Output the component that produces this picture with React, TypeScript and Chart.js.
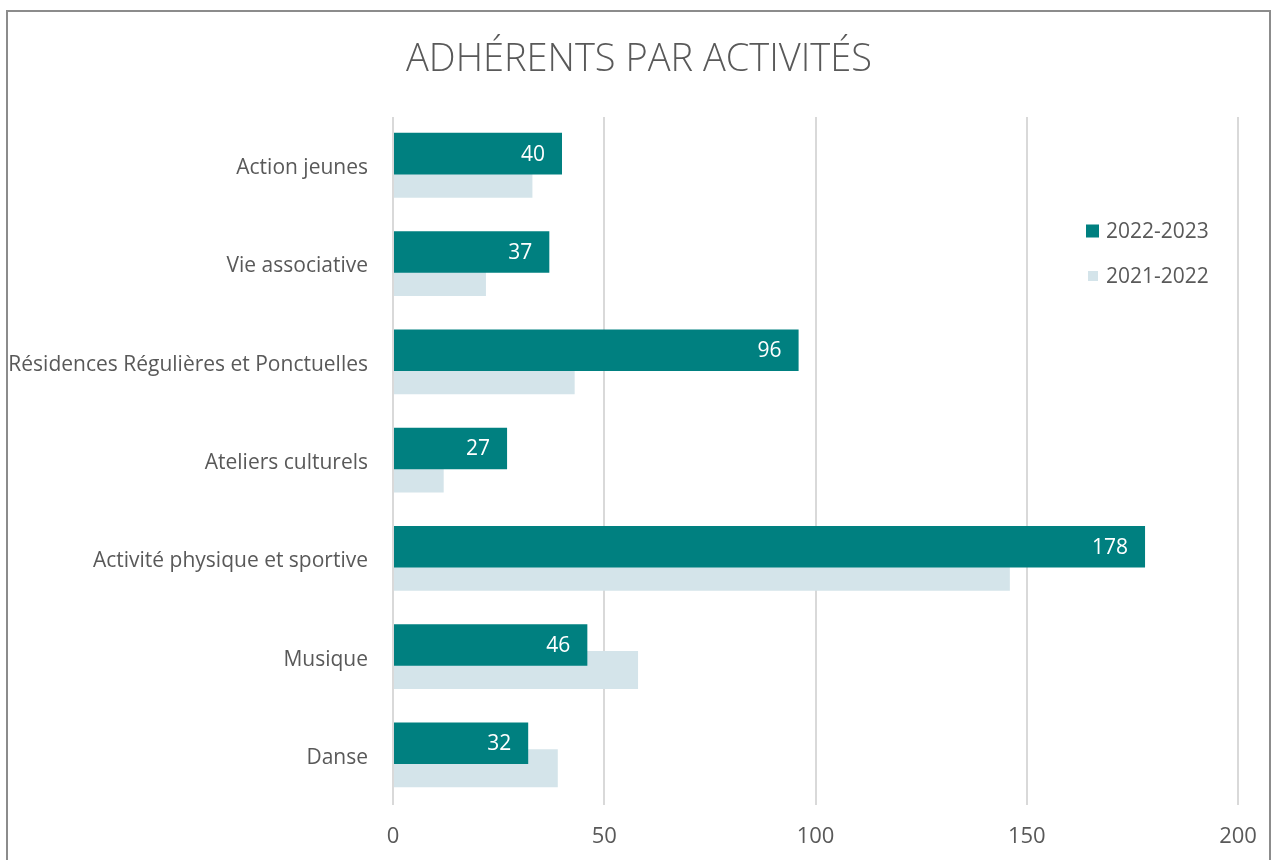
import React, { useEffect, useRef } from 'react';
import { Chart, registerables } from 'chart.js';

Chart.register(...registerables);

const categories = [
  'Action jeunes',
  'Vie associative',
  'Résidences Régulières et Ponctuelles',
  'Ateliers culturels',
  'Activité physique et sportive',
  'Musique',
  'Danse',
];
const series2023 = [40, 37, 96, 27, 178, 46, 32];
const series2022 = [33, 22, 43, 12, 146, 58, 39];
const seriesLabels = ['2022-2023', '2021-2022'];
const xTickValues = [0, 50, 100, 150, 200];
const titleText = 'ADHÉRENTS PAR ACTIVITÉS';

const TEAL = '#008080';
const LIGHT = '#D4E4EA';
const TEXT = '#595959';
const FONT = '"Open Sans", "DejaVu Sans", sans-serif';

const valueLabels = {
  id: 'valueLabels',
  afterDatasetsDraw(chart: any) {
    const meta = chart.getDatasetMeta(0);
    const ctx = chart.ctx;
    ctx.save();
    ctx.font = `21px ${FONT}`;
    ctx.fillStyle = '#ffffff';
    ctx.textAlign = 'right';
    ctx.textBaseline = 'middle';
    meta.data.forEach((el: any, i: number) => {
      ctx.fillText(String(chart.data.datasets[0].data[i]), el.x - 17, el.y + 1);
    });
    ctx.restore();
  },
};

const customTitle = {
  id: 'customTitle',
  afterDraw(chart: any) {
    const ctx = chart.ctx;
    ctx.save();
    ctx.font = `300 38px ${FONT}`;
    ctx.fillStyle = TEXT;
    ctx.textAlign = 'center';
    ctx.textBaseline = 'alphabetic';
    ctx.fillText(titleText, 639, 71);
    ctx.restore();
  },
};

const customLegend = {
  id: 'customLegend',
  afterDraw(chart: any) {
    const ctx = chart.ctx;
    ctx.save();
    ctx.font = `21px ${FONT}`;
    ctx.textAlign = 'left';
    ctx.textBaseline = 'middle';
    const rows = [
      { y: 231, size: 13, x: 1086 },
      { y: 276, size: 10, x: 1088 },
    ];
    chart.data.datasets.forEach((ds: any, i: number) => {
      const r = rows[i];
      ctx.fillStyle = ds.backgroundColor;
      ctx.fillRect(r.x, r.y - r.size / 2, r.size, r.size);
      ctx.fillStyle = TEXT;
      ctx.fillText(ds.label, 1106, r.y + 1);
    });
    ctx.restore();
  },
};

export default function App() {
  const canvasRef = useRef<HTMLCanvasElement | null>(null);

  useEffect(() => {
    document.body.style.margin = '0';
    const canvas = canvasRef.current;
    if (!canvas) return;
    const chart = new Chart(canvas, {
      type: 'bar',
      data: {
        labels: categories,
        datasets: [
          {
            label: seriesLabels[0],
            data: series2023,
            backgroundColor: TEAL,
            borderWidth: 0,
            categoryPercentage: 0.509,
            barPercentage: 1.66,
          },
          {
            label: seriesLabels[1],
            data: series2022,
            backgroundColor: LIGHT,
            borderWidth: 0,
            categoryPercentage: 0.509,
            barPercentage: 1.52,
          },
        ],
      },
      options: {
        indexAxis: 'y',
        responsive: false,
        animation: false,
        devicePixelRatio: 1,
        layout: { padding: { left: 0, right: 35, top: 117, bottom: 0 } },
        plugins: {
          legend: { display: false },
          tooltip: { enabled: false },
          title: { display: false },
        },
        scales: {
          x: {
            type: 'linear',
            min: 0,
            max: 200,
            afterFit: (s: any) => {
              s.height = 55;
              s.paddingLeft = 0;
              s.paddingRight = 0;
            },
            afterBuildTicks: (s: any) => {
              s.ticks = xTickValues.map((v) => ({ value: v }));
            },
            ticks: {
              color: TEXT,
              font: { family: FONT, size: 22 },
              padding: 19,
            },
            grid: {
              color: '#D9D9D9',
              lineWidth: 2,
              drawTicks: false,
            },
            border: { display: false },
          },
          y: {
            type: 'category',
            afterFit: (s: any) => {
              s.width = 393;
            },
            ticks: {
              color: TEXT,
              font: { family: FONT, size: 21 },
              padding: 25,
              labelOffset: 2,
            },
            grid: { display: false, drawTicks: false },
            border: { display: false },
          },
        },
      },
      plugins: [valueLabels, customTitle, customLegend],
    });
    return () => chart.destroy();
  }, []);

  return (
    <div style={{ position: 'absolute', left: 0, top: 0, width: 1273, height: 860, overflow: 'hidden', background: '#fff' }}>
      <div
        style={{
          position: 'absolute',
          left: 6,
          top: 10,
          width: 1265,
          height: 900,
          boxSizing: 'border-box',
          border: '2px solid #8C8C8C',
        }}
      />
      <canvas ref={canvasRef} width={1273} height={860} style={{ position: 'absolute', left: 0, top: 0 }} />
    </div>
  );
}
